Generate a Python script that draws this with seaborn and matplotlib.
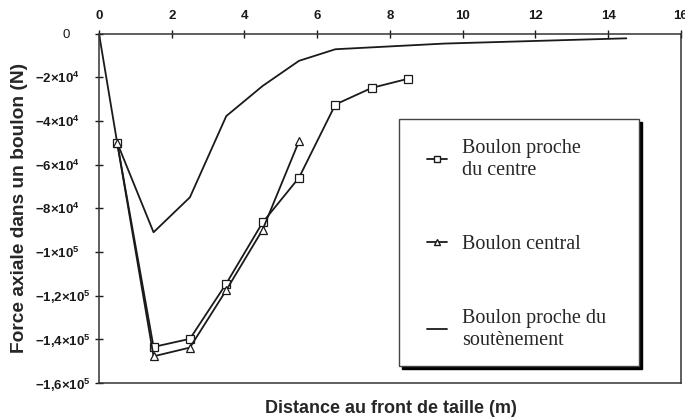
import pandas as pd
import seaborn as sns
import matplotlib.pyplot as plt
from matplotlib.lines import Line2D
from matplotlib.patches import Rectangle
from matplotlib.transforms import ScaledTranslation

# Données
x_centre = [0.5, 1.5, 2.5, 3.5, 4.5, 5.5, 6.5, 7.5, 8.5]
f_centre = [-50000, -143500, -139800, -114500, -86500, -66000, -32500, -24900, -20700]

x_central = [0.5, 1.5, 2.5, 3.5, 4.5, 5.5]
f_central = [-50000, -147800, -143800, -117500, -89800, -49300]

x_sout = [0, 0.5, 1.5, 2.5, 3.5, 4.5, 5.5, 6.5, 9.5, 14.5]
f_sout = [0, -50000, -91000, -75000, -37800, -24000, -12500, -7200, -4600, -2200]

x_ticks = [0, 2, 4, 6, 8, 10, 12, 14, 16]
y_ticks = [0, -20000, -40000, -60000, -80000, -100000, -120000, -140000, -160000]
y_labels = ['0', r'$-2{\times}10^4$', r'$-4{\times}10^4$', r'$-6{\times}10^4$', r'$-8{\times}10^4$',
            r'$-1{\times}10^5$', r'$-1{,}2{\times}10^5$', r'$-1{,}4{\times}10^5$', r'$-1{,}6{\times}10^5$']

noms = ['Boulon proche\ndu centre', 'Boulon central', 'Boulon proche du\nsoutènement']

sns.set_style('ticks')
plt.rcParams['font.family'] = ['Liberation Sans', 'DejaVu Sans']
plt.rcParams['mathtext.fontset'] = 'custom'
plt.rcParams['mathtext.rm'] = 'Liberation Sans:bold'
plt.rcParams['mathtext.it'] = 'Liberation Sans:bold'
plt.rcParams['mathtext.bf'] = 'Liberation Sans:bold'

df_centre = pd.DataFrame({'x': x_centre, 'f': f_centre})
df_central = pd.DataFrame({'x': x_central, 'f': f_central})
df_sout = pd.DataFrame({'x': x_sout, 'f': f_sout})

fig, ax = plt.subplots(figsize=(6.85, 4.19), dpi=100)
fig.subplots_adjust(left=0.1445, right=0.994, top=0.92, bottom=0.086)

noir = '#1a1a1a'
sns.lineplot(data=df_sout, x='x', y='f', ax=ax, color=noir, lw=1.3)
sns.lineplot(data=df_centre, x='x', y='f', ax=ax, color=noir, lw=1.3,
             marker='s', markersize=5.5, markerfacecolor='white', markeredgecolor=noir, markeredgewidth=0.9)
sns.lineplot(data=df_central, x='x', y='f', ax=ax, color=noir, lw=1.3,
             marker='^', markersize=5.5, markerfacecolor='white', markeredgecolor=noir, markeredgewidth=0.9)

ax.set_xlim(0, 16)
ax.set_ylim(-160000, 0)
ax.xaxis.tick_top()
ax.set_xticks(x_ticks)
ax.set_xticklabels([str(v) for v in x_ticks], fontweight='bold', fontsize=9.5)
ax.set_yticks(y_ticks)
ax.set_yticklabels(y_labels, fontsize=9.5)
ax.tick_params(direction='inout', length=6, width=1, colors=noir)
ax.tick_params(axis='x', pad=5)
ax.tick_params(axis='y', pad=43)
for i, lab in enumerate(ax.get_yticklabels()):
    lab.set_horizontalalignment('left')
    if i == 0:
        lab.set_transform(lab.get_transform() + ScaledTranslation(27 / 100, 0, fig.dpi_scale_trans))
for s in ax.spines.values():
    s.set_color('#333333')
    s.set_linewidth(1.1)

ax.set_xlabel('')
ax.set_ylabel('Force axiale dans un boulon (N)', fontsize=13.8, fontweight='bold')
ax.yaxis.set_label_coords(-0.122, 0.5)
fig.text(0.571, 0.005, 'Distance au front de taille (m)', ha='center', va='bottom',
         fontsize=13, fontweight='bold')

# cadre de la légende avec ombre portée
x0, y0, w, h = 0.5155, 0.0486, 0.4123, 0.706
ombre = Rectangle((x0, y0), w, h, transform=ax.transAxes + ScaledTranslation(3 / 100, -3 / 100, fig.dpi_scale_trans),
                  facecolor='black', edgecolor='black', zorder=3.9)
cadre = Rectangle((x0, y0), w, h, transform=ax.transAxes, facecolor='white',
                  edgecolor='#444444', lw=1.0, zorder=4)
ax.add_patch(ombre)
ax.add_patch(cadre)

handles = [
    Line2D([], [], color=noir, lw=1.3, marker='s', markersize=4.5, markerfacecolor='white', markeredgecolor=noir),
    Line2D([], [], color=noir, lw=1.3, marker='^', markersize=4.5, markerfacecolor='white', markeredgecolor=noir),
    Line2D([], [], color=noir, lw=1.3),
]
leg = ax.legend(handles, noms, loc='upper left', bbox_to_anchor=(0.5636, 0.699),
                prop={'family': 'Liberation Serif', 'size': 14.5}, handlelength=1.0,
                handletextpad=0.75, labelspacing=2.74, borderpad=0, borderaxespad=0,
                frameon=False)
leg.set_zorder(5)

plt.savefig('out.png', dpi=100)
